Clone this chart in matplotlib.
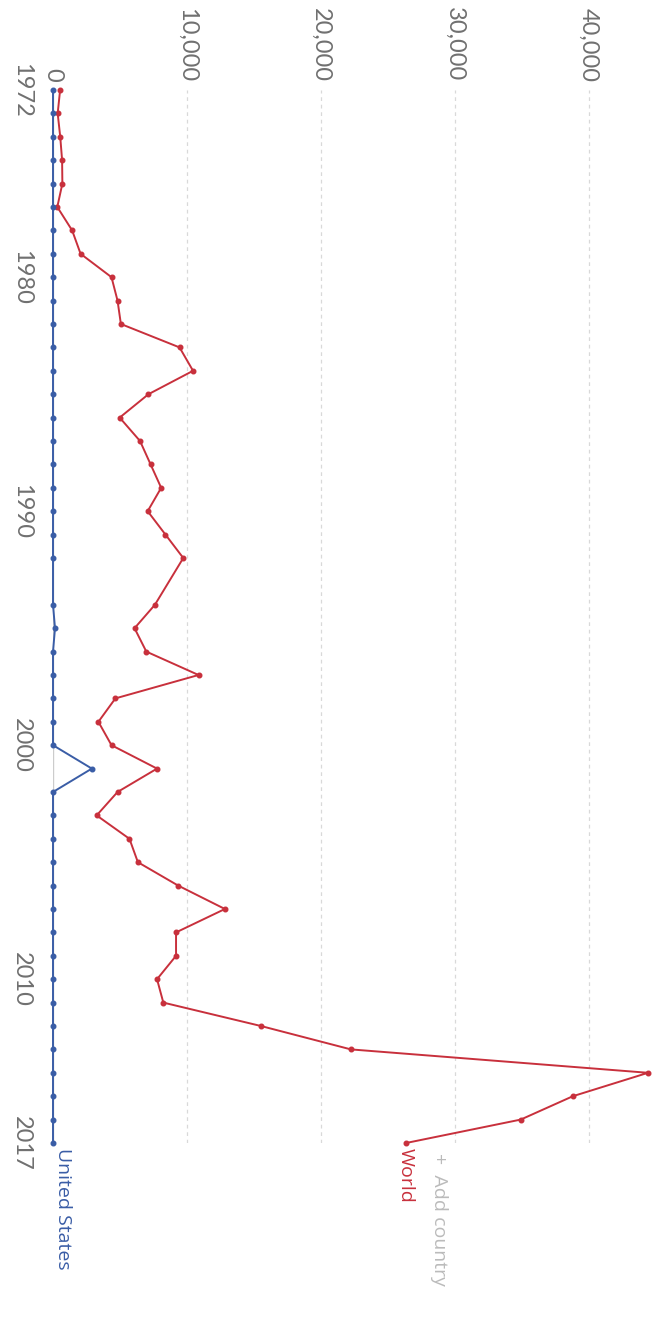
import matplotlib
matplotlib.use("Agg")
import matplotlib.pyplot as plt

# no data for 1993 in either series
years = [1972, 1973, 1974, 1975, 1976, 1977, 1978, 1979, 1980, 1981,
         1982, 1983, 1984, 1985, 1986, 1987, 1988, 1989, 1990, 1991,
         1992, 1994, 1995, 1996, 1997, 1998, 1999, 2000, 2001, 2002,
         2003, 2004, 2005, 2006, 2007, 2008, 2009, 2010, 2011, 2012,
         2013, 2014, 2015, 2016, 2017]
world = [530, 350, 540, 680, 700, 320, 1430, 2060, 4370, 4820,
         5070, 9450, 10460, 7130, 4980, 6500, 7290, 8080, 7070, 8400,
         9730, 7610, 6090, 6970, 10870, 4660, 3390, 4370, 7770, 4820,
         3260, 5710, 6340, 9350, 12840, 9190, 9190, 7770, 8240, 15530,
         22250, 44440, 38830, 34930, 26370]
united_states = [0, 0, 0, 0, 0, 0, 0, 0, 0, 0,
                 0, 0, 0, 0, 0, 0, 0, 0, 0, 0,
                 0, 0, 150, 0, 0, 0, 0, 0, 2900, 0,
                 0, 0, 0, 0, 0, 0, 0, 0, 0, 0,
                 0, 0, 0, 0, 0]

value_ticks = [0, 10000, 20000, 30000, 40000]
year_ticks = [1972, 1980, 1990, 2000, 2010, 2017]

red = "#c8303c"
blue = "#3a5da6"

plt.rcParams["font.family"] = ["Lato", "DejaVu Sans"]

fig = plt.figure(figsize=(6.62, 13.21), dpi=100)
W, H = 662, 1321
# chart is drawn turned a quarter clockwise: years run down, values run right
ax = fig.add_axes([53 / W, 1 - 1143 / H, (648 - 53) / W, (1143 - 90) / H])

ax.set_xlim(0, max(world))
ax.set_ylim(2017, 1972)

for v in value_ticks[1:]:
    ax.axvline(v, color="#d9d9d9", lw=0.9, ls=(0, (3, 3)), zorder=0)
ax.axvline(0, color="#cccccc", lw=1, zorder=0)

ax.plot(world, years, color=red, lw=1.4, marker="o", ms=3.3,
        clip_on=False, zorder=3)
ax.plot(united_states, years, color=blue, lw=1.4, marker="o", ms=3.3,
        clip_on=False, zorder=4)

ax.xaxis.tick_top()
ax.set_xticks(value_ticks)
ax.set_xticklabels([f"{v:,}" for v in value_ticks], rotation=-90,
                   fontsize=17, color="#707070")
ax.set_yticks(year_ticks)
ax.set_yticklabels([str(y) for y in year_ticks], rotation=-90,
                   fontsize=17, color="#707070", va="center")
ax.tick_params(axis="x", length=0, pad=6)
ax.tick_params(axis="y", length=0, pad=15)

for s in ax.spines.values():
    s.set_visible(False)

ax.annotate("United States", (united_states[-1], years[-1]),
            xytext=(10, -5), textcoords="offset pixels",
            rotation=-90, ha="center", va="top", fontsize=14,
            color=blue, family=["Open Sans", "DejaVu Sans"],
            annotation_clip=False)
ax.annotate("World", (world[-1], years[-1]),
            xytext=(0, -5), textcoords="offset pixels",
            rotation=-90, ha="center", va="top", fontsize=14,
            color=red, family=["Open Sans", "DejaVu Sans"],
            annotation_clip=False)
ax.annotate("+  Add country", (world[-1], years[-1]),
            xytext=(33, -10), textcoords="offset pixels",
            rotation=-90, ha="center", va="top", fontsize=14,
            color="#bbbbbb", family=["Open Sans", "DejaVu Sans"],
            annotation_clip=False)

fig.savefig("out.png", dpi=100)
